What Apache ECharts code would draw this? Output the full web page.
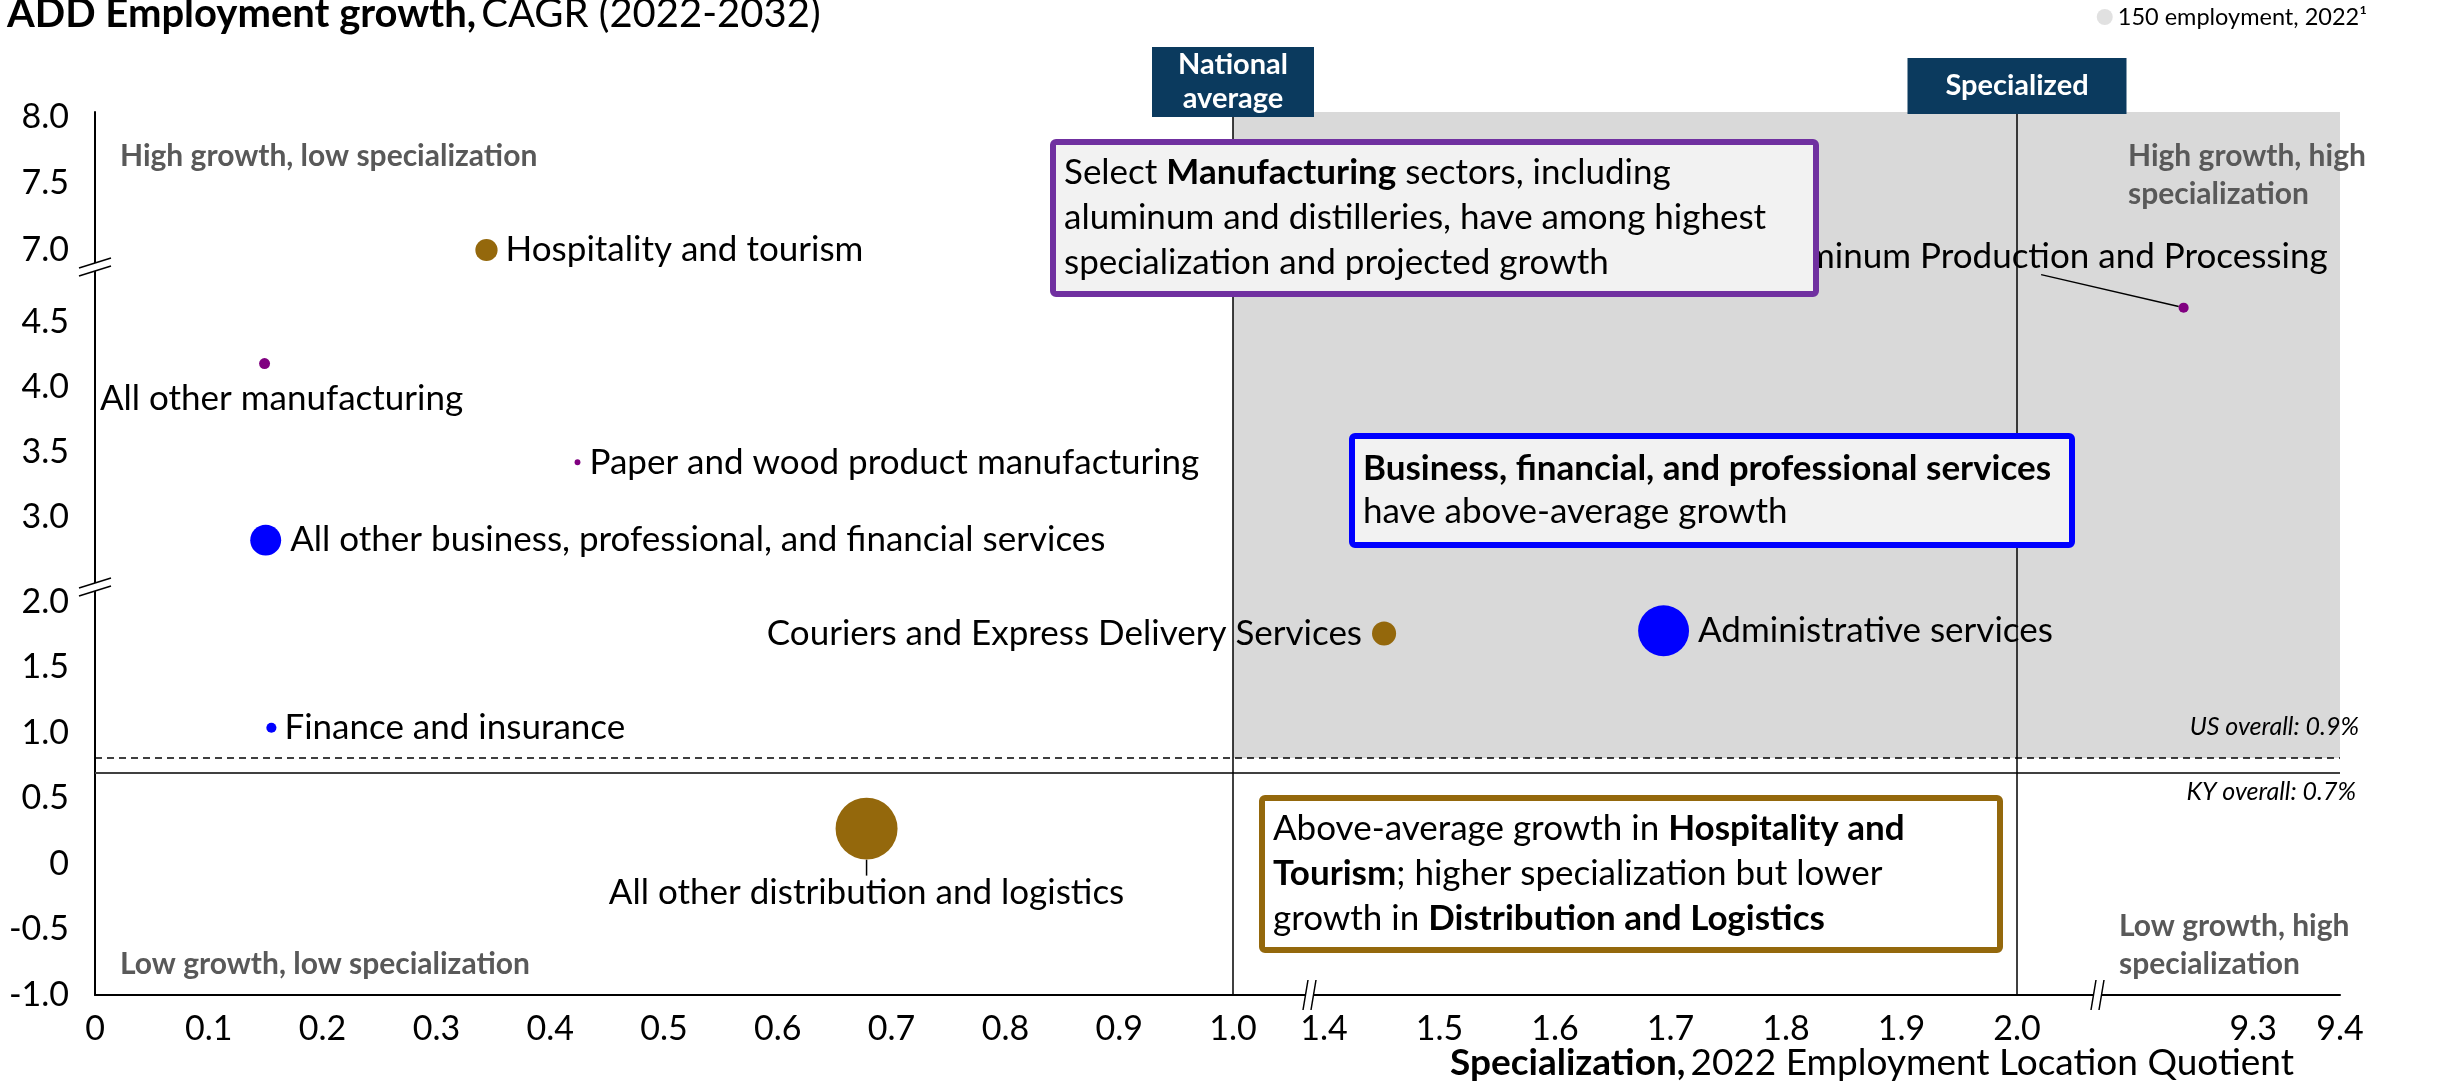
<!DOCTYPE html>
<html>
<head>
<meta charset="utf-8">
<script src="https://cdn.jsdelivr.net/npm/echarts@6/dist/echarts.min.js"></script>
<style>
  html, body { margin: 0; padding: 0; background: #fff; }
  #chart { width: 2450px; height: 1085px; }
</style>
</head>
<body>
<div id="chart"></div>
<script>
const FONT = 'Lato, "Noto Sans", sans-serif';

// sectors plotted on the bubble chart
const sectors = [
  'Hospitality and tourism',
  'All other manufacturing',
  'Paper and wood product manufacturing',
  'All other business, professional, and financial services',
  'Couriers and Express Delivery Services',
  'Administrative services',
  'Finance and insurance',
  'All other distribution and logistics',
  'Aluminum Production and Processing'
];
const specialization = [0.344, 0.149, 0.424, 0.15, 1.452, 1.694, 0.155, 0.678, 9.22]; // 2022 LQ
const growth = [7.0, 4.18, 3.42, 2.82, 1.76, 1.78, 1.04, 0.27, 4.61];                // CAGR %
const employment = [290, 70, 20, 560, 340, 1520, 60, 2250, 60];                       // 2022
const cluster = ['Hospitality', 'Manufacturing', 'Manufacturing', 'Business', 'Distribution',
                 'Business', 'Business', 'Distribution', 'Manufacturing'];

// tick labels of the broken axes
const xTicks = [0, 0.1, 0.2, 0.3, 0.4, 0.5, 0.6, 0.7, 0.8, 0.9, 1.0, 1.4, 1.5, 1.6, 1.7, 1.8, 1.9, 2.0, 9.3, 9.4];
const xTickLabels = ['0', '0.1', '0.2', '0.3', '0.4', '0.5', '0.6', '0.7', '0.8', '0.9', '1.0',
                     '1.4', '1.5', '1.6', '1.7', '1.8', '1.9', '2.0', '9.3', '9.4'];
const yTicks = [-1.0, -0.5, 0, 0.5, 1.0, 1.5, 2.0, 3.0, 3.5, 4.0, 4.5, 7.0, 7.5, 8.0];
const yTickLabels = ['-1.0', '-0.5', '0', '0.5', '1.0', '1.5', '2.0', '3.0', '3.5', '4.0', '4.5', '7.0', '7.5', '8.0'];

// reference lines (growth level as drawn) and thresholds on the LQ axis
const overallGrowth = [0.81, 0.7];
const overallLabels = ['US overall: 0.9%', 'KY overall: 0.7%'];
const thresholds = [1.0, 2.0];
const thresholdLabels = ['National\naverage', 'Specialized'];
const legendEmployment = 150;

// piecewise scales for the broken axes: [value, display unit]
const X_MAP = [[0, 0], [1.0, 1138], [1.4, 1229], [2.0, 1922], [9.118, 2000], [9.4, 2245]];
const Y_MAP = [[-1.0, 0], [2.0, 393], [2.49, 412], [4.5, 673], [4.9, 725], [7.0, 745], [8.0, 878]];
const X_BREAKS = [1212, 2000];
const Y_BREAKS = [412, 732];
const X_MAX = 2245, Y_MAX = 883;

function mapAxis(m, v) {
  for (let i = 0; i < m.length - 1; i++) {
    if (v <= m[i + 1][0] || i === m.length - 2) {
      const [a0, d0] = m[i], [a1, d1] = m[i + 1];
      return d0 + (v - a0) / (a1 - a0) * (d1 - d0);
    }
  }
}
const fx = v => mapAxis(X_MAP, v);
const fy = v => mapAxis(Y_MAP, v);

const key = v => Math.round(v * 100);
const xLabelMap = new Map(xTicks.map((t, i) => [key(fx(t)), xTickLabels[i]]));
const yLabelMap = new Map(yTicks.map((t, i) => [key(fy(t)), yTickLabels[i]]));

const clusterColors = {
  Business: '#0000FF',
  Manufacturing: '#800080',
  Hospitality: '#94680C',
  Distribution: '#94680C'
};

// where each sector label sits
const labelPlace = {
  'Hospitality and tourism': { position: 'right', distance: 8 },
  'All other manufacturing': { position: 'bottom', distance: 12, layout: { dx: 17 } },
  'Paper and wood product manufacturing': { position: 'right', distance: 9 },
  'All other business, professional, and financial services': { position: 'right', distance: 9 },
  'Couriers and Express Delivery Services': { position: 'left', distance: 10 },
  'Administrative services': { position: 'right', distance: 9 },
  'Finance and insurance': { position: 'right', distance: 8 },
  'All other distribution and logistics': { position: 'bottom', distance: 2, layout: { dy: 14 }, line: true },
  'Aluminum Production and Processing': { position: 'top', align: 'right', distance: 5, layout: { dx: 144, dy: -23 }, line: true }
};

const sizeOf = emp => 16 * Math.sqrt(emp / legendEmployment);

const clusterNames = ['Business', 'Manufacturing', 'Hospitality', 'Distribution'];
const bubbleSeries = clusterNames.map(c => {
  const items = [];
  sectors.forEach((s, i) => {
    if (cluster[i] !== c) return;
    const p = labelPlace[s];
    items.push({
      name: s,
      value: [fx(specialization[i]), fy(growth[i]), employment[i]],
      symbolSize: sizeOf(employment[i]),
      label: {
        show: true,
        position: p.position,
        distance: p.distance,
        align: p.align,
        formatter: '{b}'
      },
      labelLine: { show: !!p.line, lineStyle: { color: '#000', width: 1.5 } },
      _layout: p.layout || null
    });
  });
  return {
    name: c,
    type: 'scatter',
    z: 5,
    data: items,
    itemStyle: { color: clusterColors[c], opacity: 1 },
    label: { color: '#000', fontSize: 35, fontFamily: FONT },
    labelLayout: params => {
      const it = items[params.dataIndex];
      return it && it._layout ? it._layout : {};
    },
    emphasis: { disabled: true }
  };
});

const refSeries = {
  name: 'ref',
  type: 'scatter',
  data: [],
  silent: true,
  markArea: {
    silent: true,
    itemStyle: { color: '#D9D9D9' },
    data: [[{ xAxis: fx(thresholds[0]), yAxis: fy(overallGrowth[0]) }, { xAxis: X_MAX, yAxis: Y_MAX }]]
  },
  markLine: {
    silent: true,
    symbol: ['none', 'none'],
    animation: false,
    data: [
      {
        yAxis: fy(overallGrowth[0]),
        lineStyle: { color: '#000', width: 1.5, type: [7, 5] },
        label: {
          show: true, formatter: overallLabels[0], position: 'insideEndTop', distance: 18, offset: [37, 0],
          fontStyle: 'italic', fontSize: 25, fontFamily: FONT, color: '#000'
        }
      },
      {
        yAxis: fy(overallGrowth[1]),
        lineStyle: { color: '#404040', width: 2, type: 'solid' },
        label: {
          show: true, formatter: overallLabels[1], position: 'insideEndBottom', distance: 7, offset: [23, 0],
          fontStyle: 'italic', fontSize: 25, fontFamily: FONT, color: '#000'
        }
      },
      { xAxis: fx(thresholds[0]), lineStyle: { color: '#000', width: 1.5, type: 'solid' }, label: { show: false } },
      { xAxis: fx(thresholds[1]), lineStyle: { color: '#000', width: 1.5, type: 'solid' }, label: { show: false } }
    ]
  }
};

const legendName = legendEmployment + ' employment, 2022\u00B9';
const legendSeries = { name: legendName, type: 'scatter', data: [], itemStyle: { color: '#D9D9D9' } };

const chart = echarts.init(document.getElementById('chart'));

chart.setOption({
  animation: false,
  title: [
    {
      text: '{b|ADD Employment growth,} {r|CAGR (2022-2032)}',
      left: 2, top: -11,
      textStyle: {
        fontWeight: 'normal',
        rich: {
          b: { fontWeight: 'bold', fontSize: 40, fontFamily: FONT, color: '#000' },
          r: { fontWeight: 'normal', fontSize: 40, fontFamily: FONT, color: '#000' }
        }
      }
    },
    {
      text: '{b|Specialization,} {r|2022 Employment Location Quotient}',
      left: 1445, top: 1040,
      textStyle: {
        fontWeight: 'normal',
        rich: {
          b: { fontWeight: 'bold', fontSize: 37, fontFamily: FONT, color: '#000' },
          r: { fontWeight: 'normal', fontSize: 37, fontFamily: FONT, color: '#000' }
        }
      }
    }
  ],
  legend: {
    data: [{ name: legendName, icon: 'circle' }],
    right: 78, top: 0,
    itemWidth: 16, itemHeight: 16, itemGap: 6,
    selectedMode: false,
    textStyle: { fontSize: 23.5, fontFamily: FONT, color: '#000' }
  },
  grid: { left: 95, top: 112, width: X_MAX, height: Y_MAX },
  xAxis: {
    type: 'value', min: 0, max: X_MAX,
    splitLine: { show: false },
    axisTick: { show: false },
    axisLine: { show: true, lineStyle: { color: '#000', width: 2 } },
    axisLabel: {
      customValues: xTicks.map(fx),
      formatter: v => xLabelMap.get(key(v)) || '',
      fontSize: 34, fontFamily: FONT, color: '#000', margin: 17
    }
  },
  yAxis: {
    type: 'value', min: 0, max: Y_MAX,
    splitLine: { show: false },
    axisTick: { show: false },
    axisLine: { show: true, lineStyle: { color: '#000', width: 2 } },
    axisLabel: {
      customValues: yTicks.map(fy),
      formatter: v => yLabelMap.get(key(v)) || '',
      fontSize: 34, fontFamily: FONT, color: '#000', margin: 26
    }
  },
  series: [refSeries, ...bubbleSeries, legendSeries]
});

// annotations: break marks, threshold tags, quadrant names and callout boxes
const px = (xd, yd) => chart.convertToPixel({ gridIndex: 0 }, [xd, yd]);
const graphics = [];

Y_BREAKS.forEach(b => {
  const [x, y] = px(0, b);
  graphics.push({
    type: 'polygon', z: 50,
    shape: { points: [[x - 16, y + 5], [x + 16, y - 5], [x + 16, y + 3], [x - 16, y + 13]] },
    style: { fill: '#fff' }
  });
  graphics.push({ type: 'line', z: 51, shape: { x1: x - 16, y1: y + 5, x2: x + 16, y2: y - 5 }, style: { stroke: '#000', lineWidth: 1.5 } });
  graphics.push({ type: 'line', z: 51, shape: { x1: x - 16, y1: y + 13, x2: x + 16, y2: y + 3 }, style: { stroke: '#000', lineWidth: 1.5 } });
});
X_BREAKS.forEach(b => {
  const [x, y] = px(b, 0);
  graphics.push({
    type: 'polygon', z: 50,
    shape: { points: [[x - 4, y + 15], [x + 1, y - 15], [x + 9, y - 15], [x + 4, y + 15]] },
    style: { fill: '#fff' }
  });
  graphics.push({ type: 'line', z: 51, shape: { x1: x - 4, y1: y + 15, x2: x + 1, y2: y - 15 }, style: { stroke: '#000', lineWidth: 1.5 } });
  graphics.push({ type: 'line', z: 51, shape: { x1: x + 4, y1: y + 15, x2: x + 9, y2: y - 15 }, style: { stroke: '#000', lineWidth: 1.5 } });
});

const tagBoxes = [{ w: 162, top: 47, h: 70 }, { w: 219, top: 58, h: 56 }];
thresholds.forEach((t, i) => {
  const [x] = px(fx(t), 0);
  const b = tagBoxes[i];
  graphics.push({
    type: 'rect', z: 60,
    shape: { x: x - b.w / 2, y: b.top, width: b.w, height: b.h },
    style: { fill: '#0B3A5E' }
  });
  graphics.push({
    type: 'text', z: 61, x: x, y: b.top + b.h / 2,
    style: {
      text: thresholdLabels[i], align: 'center', verticalAlign: 'middle',
      fontSize: 29, fontWeight: 'bold', fontFamily: FONT, fill: '#fff', lineHeight: 34
    }
  });
});

const quadrantText = [
  { text: 'High growth, low specialization', x: 120, y: 137 },
  { text: 'High growth, high\nspecialization', x: 2128, y: 137 },
  { text: 'Low growth, low specialization', x: 120, y: 945 },
  { text: 'Low growth, high\nspecialization', x: 2119, y: 907 }
];
quadrantText.forEach(q => graphics.push({
  type: 'text', z: 40, x: q.x, y: q.y,
  style: {
    text: q.text, align: 'left', verticalAlign: 'top', lineHeight: 38,
    fontSize: 30, fontWeight: 'bold', fontFamily: FONT, fill: '#595959'
  }
}));

const richBase = { fontSize: 35, fontFamily: FONT, fill: '#000' };
const callouts = [
  {
    x: 1053, y: 142, w: 763, h: 152, stroke: '#7030A0', fill: '#F2F2F2', lh: 45,
    text: '{n|Select }{b|Manufacturing}{n| sectors, including}\n{n|aluminum and distilleries, have among highest}\n{n|specialization and projected growth}'
  },
  {
    x: 1352, y: 436, w: 720, h: 109, stroke: '#0000FF', fill: '#F2F2F2', lh: 43,
    text: '{b|Business, financial, and professional services}\n{n|have above-average growth}'
  },
  {
    x: 1262, y: 798, w: 738, h: 152, stroke: '#94680C', fill: '#FFFFFF', lh: 45,
    text: '{n|Above-average growth in }{b|Hospitality and}\n{b|Tourism}{n|; higher specialization but lower}\n{n|growth in }{b|Distribution and Logistics}'
  }
];
callouts.forEach(c => {
  graphics.push({
    type: 'rect', z: 70,
    shape: { x: c.x, y: c.y, width: c.w, height: c.h, r: 3 },
    style: { fill: c.fill, stroke: c.stroke, lineWidth: 6 }
  });
  graphics.push({
    type: 'text', z: 71, x: c.x + 11, y: c.y + c.h / 2,
    style: {
      text: c.text, align: 'left', verticalAlign: 'middle',
      fontSize: 35, fontFamily: FONT, fill: '#000', lineHeight: c.lh,
      rich: {
        n: Object.assign({ lineHeight: c.lh }, richBase),
        b: Object.assign({ lineHeight: c.lh, fontWeight: 'bold' }, richBase)
      }
    }
  });
});

chart.setOption({ graphic: { elements: graphics } });
</script>
</body>
</html>
